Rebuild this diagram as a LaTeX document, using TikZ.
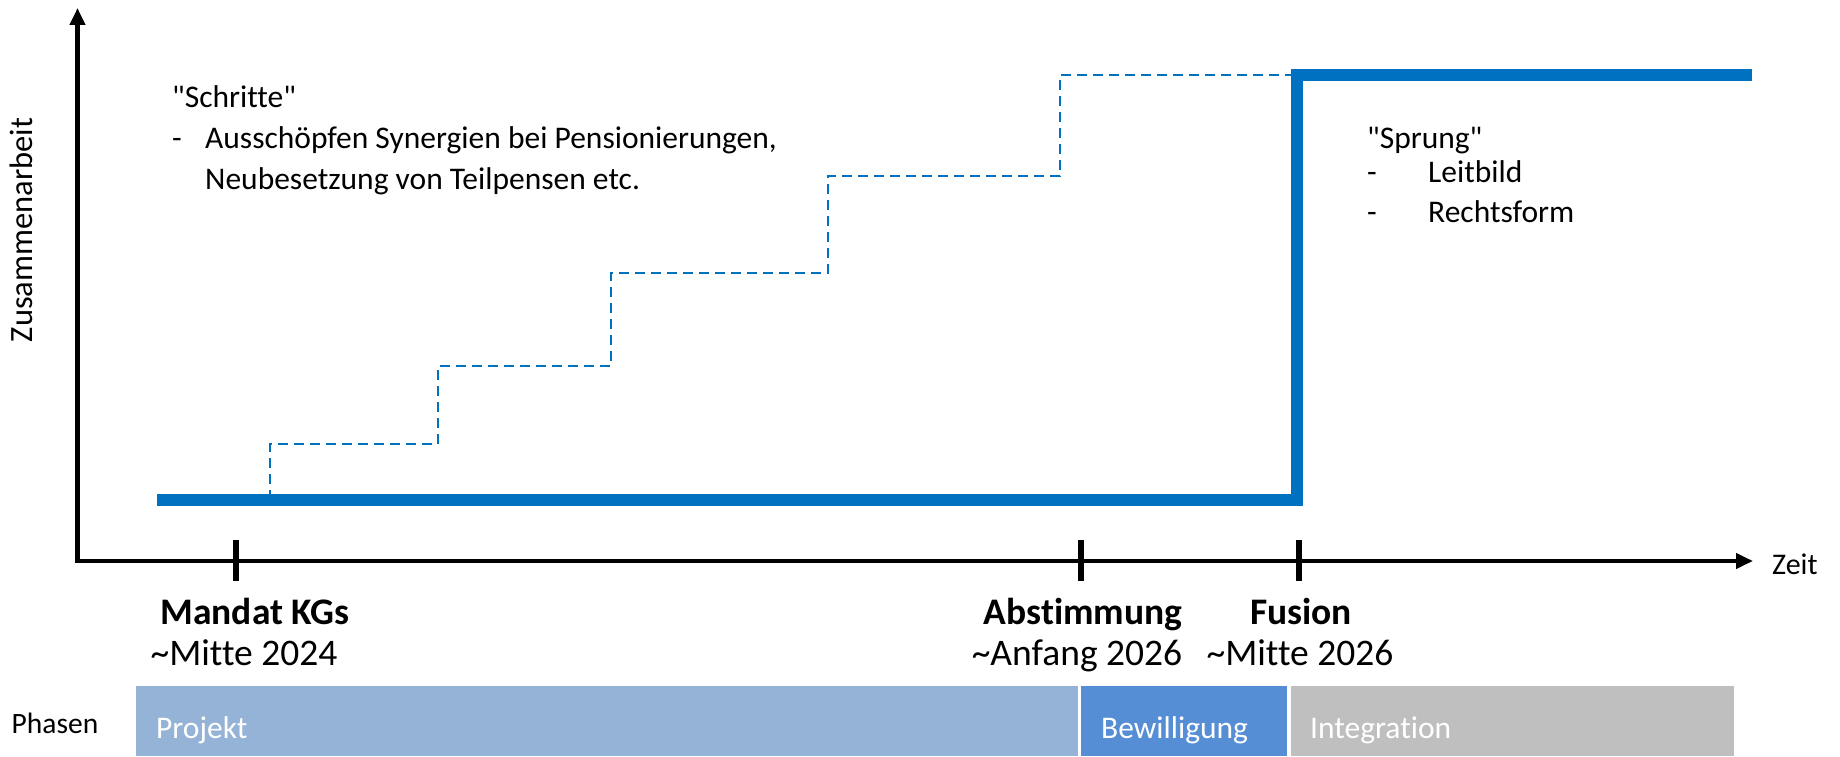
\documentclass[tikz,border=0pt]{standalone}
\usepackage{fontspec}
\setmainfont{Carlito}[Ligatures={TeXOff,CommonOff}]
\usetikzlibrary{arrows.meta}

\definecolor{lineblue}{HTML}{0070C0}
\definecolor{projektblue}{HTML}{95B3D7}
\definecolor{bewblue}{HTML}{558ED5}
\definecolor{intgray}{HTML}{BFBFBF}

\tikzset{
  body/.style={font=\fontsize{31.5}{38}\selectfont, inner sep=0pt, anchor=mid west},
  milestone/.style={font=\fontsize{37.5}{44}\selectfont\bfseries, inner sep=0pt, anchor=mid},
  datelabel/.style={font=\fontsize{37.5}{44}\selectfont, inner sep=0pt, anchor=mid},
  phasebar/.style={draw=none, inner sep=0pt, anchor=south west, minimum height=69.5},
  phasetext/.style={font=\fontsize{31.5}{38}\selectfont, text=white, inner sep=0pt, anchor=mid west},
  tickmark/.style={line width=6.5pt},
  axis/.style={line width=4.5pt, {Triangle[length=17pt,width=15pt]}-{Triangle[length=17pt,width=15pt]}}
}

\begin{document}
\begin{tikzpicture}[x=1pt,y=1pt]
  \useasboundingbox (0,0) rectangle (1840,756);

  % axes
  \coordinate (ytop) at (77.5,748);
  \coordinate (origin) at (77.5,195);
  \coordinate (xend) at (1753,195);
  \draw[axis] (ytop) -- (origin) -- (xend);
  \node[body, font=\fontsize{30}{36}\selectfont] (zeit) at (1772,184) {Zeit};
  \node[body, font=\fontsize{32.5}{39}\selectfont, anchor=mid, rotate=90] (zusammen) at (30,526) {Zusammenarbeit};

  % milestones
  \foreach \name/\x in {t1/236, t2/1081, t3/1299}{
    \coordinate (\name top) at (\x,216);
    \coordinate (\name bot) at (\x,175);
    \draw[tickmark] (\name top) -- (\name bot);
  }
  \node[milestone] (mandat) at (255,134) {Mandat KGs};
  \node[datelabel] (mandatdate) at (244,93) {\textasciitilde Mitte 2024};
  \node[milestone] (abst) at (1083,134) {Abstimmung};
  \node[datelabel] (abstdate) at (1077,93) {\textasciitilde Anfang 2026};
  \node[milestone] (fusion) at (1301,134) {Fusion};
  \node[datelabel] (fusiondate) at (1300,93) {\textasciitilde Mitte 2026};

  % phases
  \node[body, font=\fontsize{29.5}{35}\selectfont, anchor=mid] (phasen) at (55,25) {Phasen};
  \node[phasebar, fill=projektblue, minimum width=942] (projekt) at (136,0) {};
  \node[phasebar, fill=bewblue, minimum width=206] (bew) at (1081,0) {};
  \node[phasebar, fill=intgray, minimum width=443] (integ) at (1291,0) {};
  \node[phasetext] (projekttxt) at (156,20) {Projekt};
  \node[phasetext] (bewtxt) at (1101,20) {Bewilligung};
  \node[phasetext] (integtxt) at (1310,20) {Integration};

  % steps (dashed)
  \coordinate (s0) at (270,256);
  \coordinate (s1) at (438,312);
  \coordinate (s2) at (611,390);
  \coordinate (s3) at (828,483);
  \coordinate (s4) at (1060,580);
  \coordinate (s5) at (1292,681);
  \draw[lineblue, line width=2.5pt, dash pattern=on 10pt off 6pt]
    (s0) |- (s1) |- (s2) |- (s3) |- (s4) |- (s5);

  % jump (solid)
  \coordinate (j0) at (157,256);
  \coordinate (j1) at (1297,681);
  \coordinate (j2) at (1752,681);
  \draw[lineblue, line width=12pt] (j0) -| (j1) -- (j2);

  % texts
  \node[body] (schritte) at (172,651) {"Schritte"};
  \node[body] (dash1) at (172,610) {-};
  \node[body] (synergien) at (205,610) {Ausschöpfen Synergien bei Pensionierungen,};
  \node[body] (neubes) at (205,569) {Neubesetzung von Teilpensen etc.};
  \node[body] (sprung) at (1367,610) {"Sprung"};
  \node[body] (dash2) at (1367,576) {-};
  \node[body] (leitbild) at (1428,576) {Leitbild};
  \node[body] (dash3) at (1367,536) {-};
  \node[body] (rechtsform) at (1428,536) {Rechtsform};
\end{tikzpicture}
\end{document}
